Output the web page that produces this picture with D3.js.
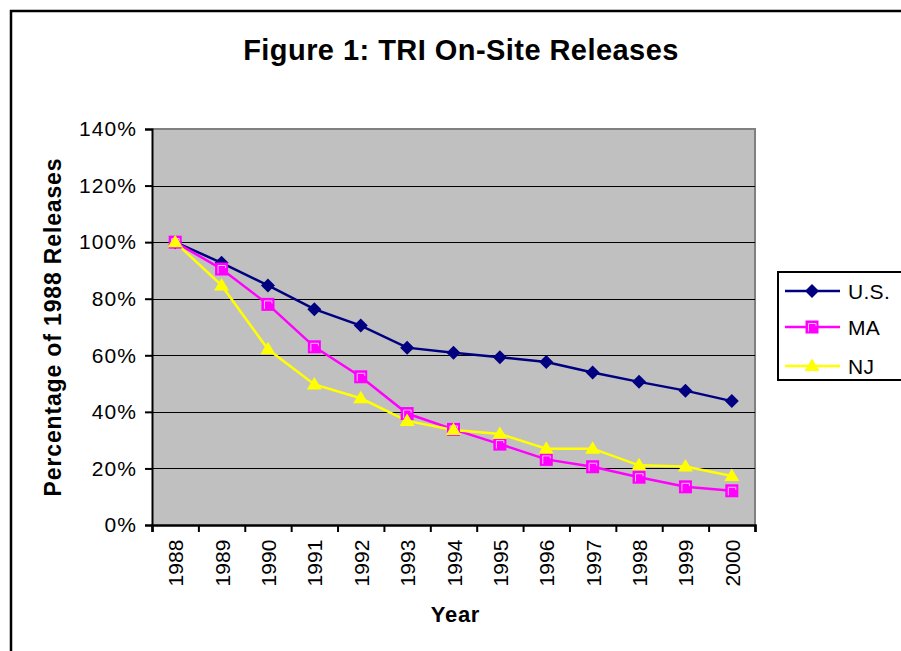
<!DOCTYPE html>
<html>
<head>
<meta charset="utf-8">
<script src="https://cdn.jsdelivr.net/npm/d3@7"></script>
<style>
  html, body { margin: 0; padding: 0; background: #fff; }
  svg { display: block; }
  text { font-family: "Liberation Sans", Arial, sans-serif; fill: #000; }
</style>
</head>
<body>
<svg id="chart" width="901" height="651"></svg>
<script>
// TRI on-site releases as a percentage of the 1988 level
const years = ["1988","1989","1990","1991","1992","1993","1994","1995","1996","1997","1998","1999","2000"];
const usValues = [1.000, 0.927, 0.847, 0.763, 0.705, 0.627, 0.609, 0.593, 0.576, 0.539, 0.506, 0.475, 0.438];
const maValues = [1.000, 0.905, 0.780, 0.630, 0.524, 0.394, 0.338, 0.286, 0.232, 0.206, 0.169, 0.135, 0.121];
const njValues = [1.000, 0.847, 0.621, 0.497, 0.448, 0.368, 0.336, 0.322, 0.270, 0.270, 0.211, 0.207, 0.173];
const yTicks = [0, 0.2, 0.4, 0.6, 0.8, 1.0, 1.2, 1.4];
const seriesNames = ["U.S.", "MA", "NJ"];

const series = [
  { name: seriesNames[0], values: usValues, color: "#000080", marker: "diamond" },
  { name: seriesNames[1], values: maValues, color: "#FF00FF", marker: "square" },
  { name: seriesNames[2], values: njValues, color: "#FFFF00", marker: "triangle" }
];

const svg = d3.select("#chart");
const plot = { left: 152, right: 755, top: 129, bottom: 525 };

// outer frame
svg.append("rect")
  .attr("x", 11).attr("y", 11).attr("width", 960).attr("height", 700)
  .attr("fill", "none").attr("stroke", "#000").attr("stroke-width", 2.5);

// title
svg.append("text")
  .attr("x", 461).attr("y", 60)
  .attr("text-anchor", "middle")
  .style("font-size", "29px").style("font-weight", "bold")
  .style("letter-spacing", "0.45px")
  .text("Figure 1: TRI On-Site Releases");

const x = d3.scaleBand().domain(years).range([plot.left, plot.right]).padding(0);
const xEdge = d3.scaleLinear().domain([0, years.length]).range([plot.left, plot.right]);
const y = d3.scaleLinear().domain([0, 1.4]).range([plot.bottom, plot.top]);
const cx = d => x(d) + x.bandwidth() / 2;

// plot background
svg.append("rect")
  .attr("x", plot.left).attr("y", plot.top)
  .attr("width", plot.right - plot.left).attr("height", plot.bottom - plot.top)
  .attr("fill", "#C0C0C0");

// plot border (top and right)
svg.append("path")
  .attr("d", `M${plot.left},${plot.top}H${plot.right}V${plot.bottom}`)
  .attr("fill", "none").attr("stroke", "#808080").attr("stroke-width", 2);

// gridlines
svg.append("g")
  .selectAll("line")
  .data(yTicks.filter(v => v > 0 && v < 1.4))
  .join("line")
  .attr("x1", plot.left).attr("x2", plot.right)
  .attr("y1", d => Math.round(y(d)) + 0.5).attr("y2", d => Math.round(y(d)) + 0.5)
  .attr("stroke", "#000").attr("stroke-width", 1);

// y axis
const yAxis = svg.append("g")
  .attr("transform", `translate(${plot.left},0)`)
  .call(d3.axisLeft(y).tickValues(yTicks).tickFormat(d3.format(".0%")).tickSize(7).tickPadding(8));
yAxis.select(".domain").attr("stroke", "#000").attr("stroke-width", 2);
yAxis.selectAll(".tick line").attr("stroke", "#000").attr("stroke-width", 2);
yAxis.selectAll(".tick text")
  .style("font-family", '"Liberation Sans", Arial, sans-serif')
  .style("font-size", "21px").style("letter-spacing", "1.1px")
  .attr("fill", "#000");

// x axis: tick marks sit on category boundaries
const xTickAxis = svg.append("g")
  .attr("transform", `translate(0,${plot.bottom})`)
  .call(d3.axisBottom(xEdge).tickValues(d3.range(years.length + 1)).tickSize(7).tickFormat(""));
xTickAxis.select(".domain").attr("stroke", "#000").attr("stroke-width", 2.5);
xTickAxis.selectAll(".tick line").attr("stroke", "#000").attr("stroke-width", 2);

// x labels, rotated, centred on each category
svg.append("g")
  .selectAll("text")
  .data(years)
  .join("text")
  .attr("transform", d => `translate(${cx(d) + 8},${542}) rotate(-90)`)
  .attr("text-anchor", "start")
  .attr("x", -44.5)
  .style("font-size", "21px").style("letter-spacing", "0.1px")
  .text(d => d);

// axis titles
svg.append("text")
  .attr("transform", `translate(61,${(plot.top + plot.bottom) / 2}) rotate(-90)`)
  .attr("text-anchor", "middle")
  .style("font-size", "23px").style("font-weight", "bold")
  .style("letter-spacing", "0.85px")
  .text("Percentage of 1988 Releases");

svg.append("text")
  .attr("x", (plot.left + plot.right) / 2 + 2).attr("y", 622)
  .attr("text-anchor", "middle")
  .style("font-size", "22px").style("font-weight", "bold")
  .style("letter-spacing", "0.7px")
  .text("Year");

// marker drawing
function drawMarker(g, type, color) {
  if (type === "diamond") {
    g.append("path").attr("d", "M0,-7L7,0L0,7L-7,0Z").attr("fill", color);
  } else if (type === "square") {
    g.append("rect").attr("x", -6.5).attr("y", -6.5).attr("width", 13).attr("height", 13).attr("fill", color);
    g.append("path").attr("d", "M-3.5,4.5V-3.5H4V-1")
      .attr("fill", "none").attr("stroke", "#FFC0FF").attr("stroke-width", 1);
  } else {
    g.append("path").attr("d", "M0,-7.5L7.5,5L-7.5,5Z").attr("fill", color);
  }
}

const line = d3.line().x((d, i) => cx(years[i])).y(d => y(d));

series.forEach(s => {
  svg.append("path")
    .datum(s.values)
    .attr("d", line)
    .attr("fill", "none")
    .attr("stroke", s.color)
    .attr("stroke-width", 2.5);
});

series.forEach(s => {
  const gm = svg.append("g");
  s.values.forEach((v, i) => {
    const g = gm.append("g").attr("transform", `translate(${cx(years[i])},${y(v)})`);
    drawMarker(g, s.marker, s.color);
  });
});

// legend
const legend = svg.append("g");
legend.append("rect")
  .attr("x", 778).attr("y", 272).attr("width", 200).attr("height", 108)
  .attr("fill", "#fff").attr("stroke", "#000").attr("stroke-width", 2);
const legendY = [291, 327, 366];
series.forEach((s, i) => {
  const g = legend.append("g").attr("transform", `translate(0,${legendY[i]})`);
  g.append("line").attr("x1", 785).attr("x2", 840).attr("y1", 0).attr("y2", 0)
    .attr("stroke", s.color).attr("stroke-width", 2.5);
  const m = g.append("g").attr("transform", "translate(812,0)");
  drawMarker(m, s.marker, s.color);
  g.append("text").attr("x", 848).attr("y", 8)
    .style("font-size", "21px").style("letter-spacing", "0.3px").text(s.name);
});
</script>
</body>
</html>
